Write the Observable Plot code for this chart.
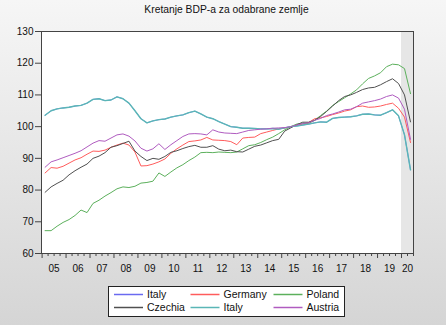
<!DOCTYPE html>
<html><head><meta charset="utf-8">
<script src="https://cdn.jsdelivr.net/npm/d3@7"></script>
<script src="https://cdn.jsdelivr.net/npm/@observablehq/plot@0.6"></script>
<style>
html,body{margin:0;padding:0;}
body{width:446px;height:325px;overflow:hidden;background:linear-gradient(#f6f6f6,#d5d5d5);font-family:"Liberation Sans",Arial,sans-serif;position:relative;}
#chart{position:absolute;left:0;top:0;}
#title{position:absolute;left:0;width:453px;top:4px;text-align:center;font-size:10.3px;color:#111;}
#legend{position:absolute;left:108px;top:286px;}
</style></head><body>
<div id="chart"></div>
<div id="title">Kretanje BDP-a za odabrane zemlje</div>
<div id="legend"></div>
<script>
const quarters = [
"2005Q1","2005Q2","2005Q3","2005Q4","2006Q1","2006Q2","2006Q3","2006Q4",
"2007Q1","2007Q2","2007Q3","2007Q4","2008Q1","2008Q2","2008Q3","2008Q4",
"2009Q1","2009Q2","2009Q3","2009Q4","2010Q1","2010Q2","2010Q3","2010Q4",
"2011Q1","2011Q2","2011Q3","2011Q4","2012Q1","2012Q2","2012Q3","2012Q4",
"2013Q1","2013Q2","2013Q3","2013Q4","2014Q1","2014Q2","2014Q3","2014Q4",
"2015Q1","2015Q2","2015Q3","2015Q4","2016Q1","2016Q2","2016Q3","2016Q4",
"2017Q1","2017Q2","2017Q3","2017Q4","2018Q1","2018Q2","2018Q3","2018Q4",
"2019Q1","2019Q2","2019Q3","2019Q4","2020Q1","2020Q2"];
const yearLabels = ["05","06","07","08","09","10","11","12","13","14","15","16","17","18","19","20"];
const yTicks = [60,70,80,90,100,110,120,130];
const shadeStart = "2020Q1", shadeEnd = "2020Q2";

const italyBlue = [103.6,105.0,105.6,105.9,106.1,106.5,106.7,107.4,108.6,108.8,108.2,108.4,109.4,108.8,107.4,105.0,
102.5,101.2,101.8,102.2,102.4,103.0,103.4,103.7,104.4,104.9,104.0,103.0,102.5,101.6,100.8,100.0,
99.8,99.5,99.5,99.4,99.3,99.3,99.4,99.2,99.6,100.0,100.2,100.5,100.8,101.2,101.5,101.4,
102.6,102.9,103.0,103.1,103.4,103.9,104.0,103.7,103.6,104.4,105.3,103.4,97.4,86.4];
const germany = [85.4,87.1,86.9,87.5,88.5,89.5,90.2,91.3,92.3,92.2,92.6,93.5,94.2,94.8,94.2,92.0,
87.6,87.7,88.2,88.9,89.8,91.6,93.0,94.2,95.3,95.5,95.8,96.6,95.8,95.7,95.6,95.3,
94.3,96.4,96.6,96.7,97.8,98.3,98.8,99.3,99.6,99.9,100.4,100.8,101.3,102.5,102.8,103.2,
103.8,104.3,104.9,105.3,106.3,106.5,106.1,106.2,106.5,107.0,107.4,105.8,103.0,95.0];
const poland = [67.2,67.2,68.6,69.8,70.7,72.0,73.7,72.9,75.8,76.8,78.1,79.2,80.4,81.0,80.8,81.2,
82.2,82.4,82.8,85.4,84.3,85.7,87.0,88.0,89.3,90.4,91.8,91.9,91.8,92.0,91.9,91.8,
92.0,93.0,94.0,94.3,95.0,95.9,96.7,97.8,99.0,100.0,100.8,101.1,101.0,102.0,103.5,104.9,
106.7,107.9,109.1,110.3,111.6,113.5,115.2,116.0,117.0,118.9,119.7,119.5,118.3,110.4];
const czechia = [79.3,81.0,82.1,83.1,84.8,86.1,87.2,88.2,90.0,90.7,91.8,93.5,94.0,94.7,95.4,92.3,
90.6,89.3,90.0,89.7,90.6,91.9,92.4,93.1,93.7,94.1,93.5,93.5,94.0,92.9,92.4,92.6,
92.1,92.0,92.9,93.8,94.2,94.9,95.6,96.0,98.6,99.6,100.6,101.4,101.4,102.0,103.2,104.8,
106.5,108.2,109.5,110.0,110.8,111.7,112.2,112.4,113.2,114.2,115.1,113.6,110.0,101.5];
const italy = [103.6,105.0,105.6,105.9,106.1,106.5,106.7,107.4,108.6,108.8,108.2,108.4,109.4,108.8,107.4,105.0,
102.5,101.2,101.8,102.2,102.4,103.0,103.4,103.7,104.4,104.9,104.0,103.0,102.5,101.6,100.8,100.0,
99.8,99.5,99.5,99.4,99.3,99.3,99.4,99.2,99.6,100.0,100.2,100.5,100.8,101.2,101.5,101.4,
102.6,102.9,103.0,103.1,103.4,103.9,104.0,103.7,103.6,104.4,105.3,103.4,97.4,86.4];
const austria = [87.2,88.9,89.5,90.2,90.9,91.6,92.4,93.6,94.8,95.6,95.4,96.4,97.4,97.7,97.0,95.5,
93.2,92.3,93.0,94.6,92.8,94.3,95.6,96.9,97.7,97.8,97.7,97.4,99.0,98.3,98.0,97.9,
97.8,98.3,98.8,99.0,99.2,99.3,99.5,99.6,99.7,100.0,100.5,101.0,101.2,102.0,102.6,103.5,
104.0,104.6,105.3,105.5,106.3,107.4,107.8,108.2,108.7,109.5,110.0,109.0,105.5,96.0];

const seriesNames = ["Italy","Germany","Poland","Czechia","Italy","Austria"];
const seriesColors = ["#6a6af0","#ff5c5c","#5cb05c","#505050","#5ab6b6","#b05cc0"];
const seriesWidths = [0.8, 1, 1, 1, 1.4, 1];
const seriesValues = [italyBlue, germany, poland, czechia, italy, austria];

const font = '"Liberation Sans", Arial, sans-serif';
const qi = q => quarters.indexOf(q);

const labelPos = yearLabels.map(y => {
  const ids = quarters.map((q,i)=>[q,i]).filter(([q]) => q.slice(2,4) === y).map(([,i]) => i);
  return d3.mean(ids);
});
const labelMap = new Map(labelPos.map((p,k)=>[p, yearLabels[k]]));
const bounds = d3.range(quarters.length + 1).map(i => i - 0.5);
const majorBounds = bounds.filter((b,k) => k % 4 === 0);
const minorBounds = bounds.filter((b,k) => k % 4 !== 0);

const plot = Plot.plot({
  width: 446, height: 325,
  marginLeft: 41, marginRight: 33, marginTop: 31, marginBottom: 72,
  style: {background: "transparent", fontFamily: font, fontSize: "10px", color: "#111"},
  x: {domain: [-0.6, 61.5], axis: null},
  y: {domain: [60, 130], axis: null},
  marks: [
    Plot.frame({fill: "white", stroke: null}),
    Plot.rect([{a: shadeStart, b: shadeEnd}], {x1: d => qi(d.a) - 0.5, x2: 61.5, y1: 60, y2: 130, fill: "#e6e6e6"}),
    ...seriesValues.map((vals, k) => Plot.line(vals.map((v,i)=>({i, v})), {x: "i", y: "v", stroke: seriesColors[k], strokeWidth: seriesWidths[k]})),
    Plot.frame({stroke: "#444", strokeWidth: 1}),
    Plot.axisY({ticks: yTicks, tickSize: 6, tickPadding: 2, label: null, stroke: "#444", fontSize: 10}),
    Plot.axisX({ticks: minorBounds, tickSize: 3, tickFormat: () => "", label: null, stroke: "#444"}),
    Plot.axisX({ticks: majorBounds, tickSize: 5, tickFormat: () => "", label: null, stroke: "#444"}),
    Plot.axisX({ticks: labelPos, tickSize: 0, tickPadding: 11, tickFormat: d => labelMap.get(d), label: null, fontSize: 10})
  ]
});
document.getElementById("chart").appendChild(plot);

const lw = 237, lh = 31;
const svg = d3.select("#legend").append("svg").attr("width", lw).attr("height", lh);
svg.append("rect").attr("x",0.5).attr("y",0.5).attr("width",lw-1).attr("height",lh-1).attr("fill","white").attr("stroke","#222");
const colX = [6, 82.5, 165.5];
const rowY = [8, 21];
seriesNames.forEach((name, k) => {
  const c = k % 3, r = Math.floor(k / 3);
  const g = svg.append("g").attr("transform", `translate(${colX[c]},${rowY[r]})`);
  g.append("line").attr("x1",0).attr("x2",29).attr("y1",0.5).attr("y2",0.5).attr("stroke",seriesColors[k]).attr("stroke-width",1.5);
  g.append("text").attr("x",33).attr("y",0).attr("dy","0.35em").attr("font-family",font).attr("font-size","10.5px").attr("fill","#111").text(name);
});
</script></body></html>
